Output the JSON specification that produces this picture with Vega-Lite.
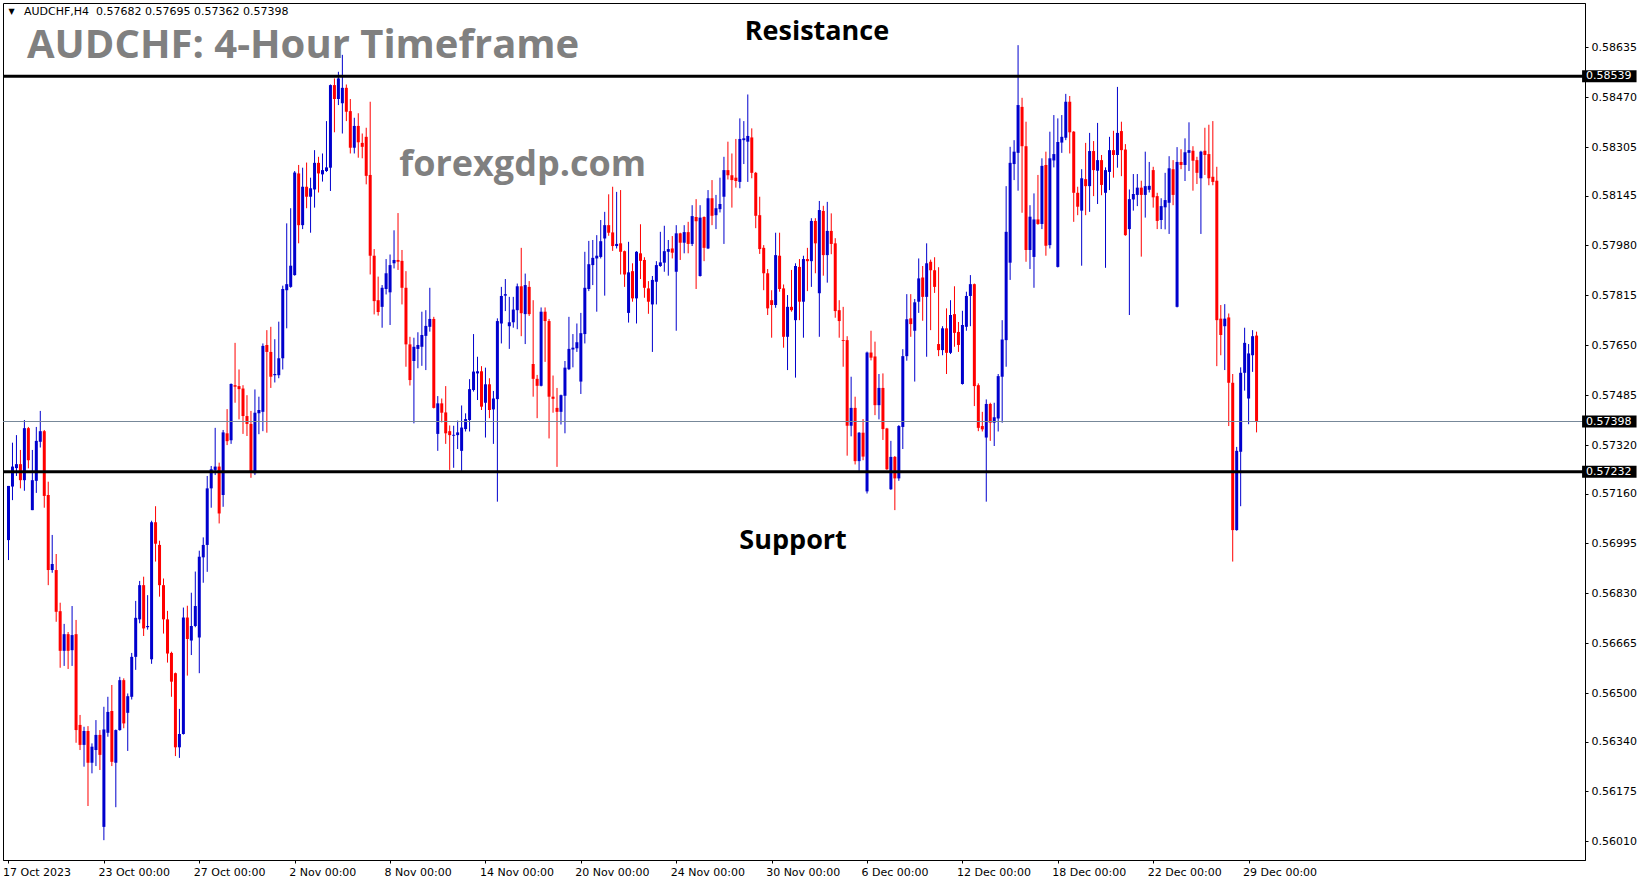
{
"$schema":"https://vega.github.io/schema/vega-lite/v6.json",
"width":1582,"height":857,
"autosize":{"type":"none"},
"padding":{"left":3,"top":3,"right":64,"bottom":24},
"background":"white",
"config":{"view":{"stroke":"black","strokeWidth":1},"font":"DejaVu Sans","axis":{"labelFont":"DejaVu Sans","labelColor":"#000","tickColor":"#000","domainColor":"#000","grid":false}},
"resolve":{"axis":{"x":"independent","y":"independent"}},
"datasets":{
"candles":[
{"i":0,"o":0.57006,"h":0.57185,"l":0.56940,"c":0.57185},
{"i":1,"o":0.57183,"h":0.57328,"l":0.57138,"c":0.57249},
{"i":2,"o":0.57244,"h":0.57353,"l":0.57218,"c":0.57257},
{"i":3,"o":0.57257,"h":0.57304,"l":0.57177,"c":0.57204},
{"i":4,"o":0.57204,"h":0.57403,"l":0.57169,"c":0.57376},
{"i":5,"o":0.57376,"h":0.57380,"l":0.57243,"c":0.57270},
{"i":6,"o":0.57105,"h":0.57304,"l":0.57105,"c":0.57204},
{"i":7,"o":0.57202,"h":0.57380,"l":0.57162,"c":0.57334},
{"i":8,"o":0.57331,"h":0.57433,"l":0.57312,"c":0.57366},
{"i":9,"o":0.57366,"h":0.57370,"l":0.57113,"c":0.57152},
{"i":10,"o":0.57155,"h":0.57199,"l":0.56857,"c":0.56907},
{"i":11,"o":0.56907,"h":0.57023,"l":0.56898,"c":0.56927},
{"i":12,"o":0.56907,"h":0.56960,"l":0.56736,"c":0.56769},
{"i":13,"o":0.56771,"h":0.56799,"l":0.56584,"c":0.56640},
{"i":14,"o":0.56640,"h":0.56729,"l":0.56590,"c":0.56695},
{"i":15,"o":0.56695,"h":0.56702,"l":0.56580,"c":0.56640},
{"i":16,"o":0.56642,"h":0.56788,"l":0.56590,"c":0.56692},
{"i":17,"o":0.56695,"h":0.56742,"l":0.56336,"c":0.56378},
{"i":18,"o":0.56395,"h":0.56428,"l":0.56312,"c":0.56329},
{"i":19,"o":0.56329,"h":0.56389,"l":0.56257,"c":0.56375},
{"i":20,"o":0.56375,"h":0.56391,"l":0.56127,"c":0.56270},
{"i":21,"o":0.56270,"h":0.56334,"l":0.56235,"c":0.56323},
{"i":22,"o":0.56312,"h":0.56411,"l":0.56259,"c":0.56362},
{"i":23,"o":0.56362,"h":0.56378,"l":0.56246,"c":0.56296},
{"i":24,"o":0.56058,"h":0.56455,"l":0.56014,"c":0.56380},
{"i":25,"o":0.56369,"h":0.56488,"l":0.56356,"c":0.56438},
{"i":26,"o":0.56441,"h":0.56527,"l":0.56259,"c":0.56273},
{"i":27,"o":0.56270,"h":0.56380,"l":0.56123,"c":0.56378},
{"i":28,"o":0.56378,"h":0.56554,"l":0.56376,"c":0.56543},
{"i":29,"o":0.56543,"h":0.56549,"l":0.56384,"c":0.56400},
{"i":30,"o":0.56435,"h":0.56499,"l":0.56309,"c":0.56490},
{"i":31,"o":0.56488,"h":0.56633,"l":0.56479,"c":0.56620},
{"i":32,"o":0.56620,"h":0.56805,"l":0.56577,"c":0.56749},
{"i":33,"o":0.56744,"h":0.56871,"l":0.56731,"c":0.56857},
{"i":34,"o":0.56857,"h":0.56885,"l":0.56689,"c":0.56714},
{"i":35,"o":0.56718,"h":0.56824,"l":0.56710,"c":0.56722},
{"i":36,"o":0.56612,"h":0.57070,"l":0.56597,"c":0.57065},
{"i":37,"o":0.57065,"h":0.57118,"l":0.56935,"c":0.56994},
{"i":38,"o":0.56990,"h":0.57004,"l":0.56819,"c":0.56857},
{"i":39,"o":0.56857,"h":0.56879,"l":0.56697,"c":0.56744},
{"i":40,"o":0.56744,"h":0.56772,"l":0.56601,"c":0.56631},
{"i":41,"o":0.56633,"h":0.56637,"l":0.56488,"c":0.56538},
{"i":42,"o":0.56566,"h":0.56568,"l":0.56292,"c":0.56321},
{"i":43,"o":0.56321,"h":0.56448,"l":0.56286,"c":0.56365},
{"i":44,"o":0.56365,"h":0.56783,"l":0.56363,"c":0.56750},
{"i":45,"o":0.56750,"h":0.56789,"l":0.56558,"c":0.56679},
{"i":46,"o":0.56674,"h":0.56832,"l":0.56626,"c":0.56722},
{"i":47,"o":0.56722,"h":0.56902,"l":0.56718,"c":0.56788},
{"i":48,"o":0.56684,"h":0.56971,"l":0.56566,"c":0.56951},
{"i":49,"o":0.56949,"h":0.57015,"l":0.56865,"c":0.56990},
{"i":50,"o":0.56990,"h":0.57218,"l":0.56901,"c":0.57177},
{"i":51,"o":0.57177,"h":0.57251,"l":0.57113,"c":0.57240},
{"i":52,"o":0.57238,"h":0.57377,"l":0.57221,"c":0.57249},
{"i":53,"o":0.57249,"h":0.57262,"l":0.57061,"c":0.57094},
{"i":54,"o":0.57155,"h":0.57370,"l":0.57116,"c":0.57362},
{"i":55,"o":0.57359,"h":0.57439,"l":0.57320,"c":0.57333},
{"i":56,"o":0.57336,"h":0.57524,"l":0.57324,"c":0.57522},
{"i":57,"o":0.57518,"h":0.57658,"l":0.57460,"c":0.57513},
{"i":58,"o":0.57515,"h":0.57570,"l":0.57405,"c":0.57505},
{"i":59,"o":0.57507,"h":0.57518,"l":0.57357,"c":0.57416},
{"i":60,"o":0.57416,"h":0.57485,"l":0.57350,"c":0.57390},
{"i":61,"o":0.57390,"h":0.57433,"l":0.57212,"c":0.57232},
{"i":62,"o":0.57227,"h":0.57504,"l":0.57221,"c":0.57427},
{"i":63,"o":0.57425,"h":0.57480,"l":0.57356,"c":0.57436},
{"i":64,"o":0.57430,"h":0.57656,"l":0.57366,"c":0.57648},
{"i":65,"o":0.57651,"h":0.57700,"l":0.57361,"c":0.57628},
{"i":66,"o":0.57628,"h":0.57711,"l":0.57509,"c":0.57546},
{"i":67,"o":0.57551,"h":0.57670,"l":0.57527,"c":0.57555},
{"i":68,"o":0.57551,"h":0.57728,"l":0.57541,"c":0.57607},
{"i":69,"o":0.57607,"h":0.57847,"l":0.57570,"c":0.57836},
{"i":70,"o":0.57832,"h":0.58053,"l":0.57706,"c":0.57852},
{"i":71,"o":0.57843,"h":0.58103,"l":0.57840,"c":0.57913},
{"i":72,"o":0.57882,"h":0.58226,"l":0.57880,"c":0.58221},
{"i":73,"o":0.58218,"h":0.58246,"l":0.57987,"c":0.58047},
{"i":74,"o":0.58047,"h":0.58237,"l":0.58034,"c":0.58174},
{"i":75,"o":0.58174,"h":0.58254,"l":0.58103,"c":0.58141},
{"i":76,"o":0.58141,"h":0.58204,"l":0.58022,"c":0.58169},
{"i":77,"o":0.58165,"h":0.58295,"l":0.58105,"c":0.58253},
{"i":78,"o":0.58253,"h":0.58273,"l":0.58155,"c":0.58218},
{"i":79,"o":0.58215,"h":0.58284,"l":0.58191,"c":0.58229},
{"i":80,"o":0.58226,"h":0.58391,"l":0.58223,"c":0.58238},
{"i":81,"o":0.58237,"h":0.58512,"l":0.58160,"c":0.58510},
{"i":82,"o":0.58510,"h":0.58532,"l":0.58354,"c":0.58464},
{"i":83,"o":0.58464,"h":0.58554,"l":0.58444,"c":0.58532},
{"i":84,"o":0.58450,"h":0.58610,"l":0.58350,"c":0.58501},
{"i":85,"o":0.58501,"h":0.58512,"l":0.58391,"c":0.58422},
{"i":86,"o":0.58424,"h":0.58464,"l":0.58284,"c":0.58303},
{"i":87,"o":0.58303,"h":0.58402,"l":0.58284,"c":0.58375},
{"i":88,"o":0.58375,"h":0.58417,"l":0.58270,"c":0.58321},
{"i":89,"o":0.58319,"h":0.58350,"l":0.58268,"c":0.58306},
{"i":90,"o":0.58339,"h":0.58369,"l":0.58182,"c":0.58210},
{"i":91,"o":0.58213,"h":0.58455,"l":0.57884,"c":0.57946},
{"i":92,"o":0.57946,"h":0.57968,"l":0.57752,"c":0.57796},
{"i":93,"o":0.57799,"h":0.57877,"l":0.57748,"c":0.57760},
{"i":94,"o":0.57777,"h":0.57849,"l":0.57708,"c":0.57840},
{"i":95,"o":0.57836,"h":0.57935,"l":0.57818,"c":0.57888},
{"i":96,"o":0.57825,"h":0.57950,"l":0.57717,"c":0.57915},
{"i":97,"o":0.57921,"h":0.58030,"l":0.57904,"c":0.57932},
{"i":98,"o":0.57932,"h":0.58087,"l":0.57899,"c":0.57926},
{"i":99,"o":0.57929,"h":0.57965,"l":0.57785,"c":0.57840},
{"i":100,"o":0.57840,"h":0.57895,"l":0.57579,"c":0.57653},
{"i":101,"o":0.57653,"h":0.57678,"l":0.57517,"c":0.57535},
{"i":102,"o":0.57598,"h":0.57675,"l":0.57392,"c":0.57645},
{"i":103,"o":0.57638,"h":0.57693,"l":0.57574,"c":0.57651},
{"i":104,"o":0.57645,"h":0.57761,"l":0.57582,"c":0.57684},
{"i":105,"o":0.57681,"h":0.57766,"l":0.57568,"c":0.57714},
{"i":106,"o":0.57711,"h":0.57840,"l":0.57695,"c":0.57737},
{"i":107,"o":0.57737,"h":0.57744,"l":0.57441,"c":0.57443},
{"i":108,"o":0.57357,"h":0.57482,"l":0.57301,"c":0.57458},
{"i":109,"o":0.57458,"h":0.57474,"l":0.57395,"c":0.57427},
{"i":110,"o":0.57428,"h":0.57515,"l":0.57324,"c":0.57359},
{"i":111,"o":0.57366,"h":0.57385,"l":0.57238,"c":0.57353},
{"i":112,"o":0.57351,"h":0.57384,"l":0.57245,"c":0.57354},
{"i":113,"o":0.57353,"h":0.57401,"l":0.57307,"c":0.57362},
{"i":114,"o":0.57301,"h":0.57451,"l":0.57235,"c":0.57378},
{"i":115,"o":0.57373,"h":0.57425,"l":0.57365,"c":0.57406},
{"i":116,"o":0.57403,"h":0.57538,"l":0.57365,"c":0.57505},
{"i":117,"o":0.57502,"h":0.57687,"l":0.57497,"c":0.57563},
{"i":118,"o":0.57557,"h":0.57612,"l":0.57469,"c":0.57564},
{"i":119,"o":0.57564,"h":0.57581,"l":0.57436,"c":0.57447},
{"i":120,"o":0.57460,"h":0.57576,"l":0.57345,"c":0.57521},
{"i":121,"o":0.57521,"h":0.57541,"l":0.57409,"c":0.57436},
{"i":122,"o":0.57438,"h":0.57499,"l":0.57324,"c":0.57474},
{"i":123,"o":0.57472,"h":0.57739,"l":0.57133,"c":0.57730},
{"i":124,"o":0.57722,"h":0.57843,"l":0.57656,"c":0.57813},
{"i":125,"o":0.57814,"h":0.57869,"l":0.57763,"c":0.57819},
{"i":126,"o":0.57713,"h":0.57810,"l":0.57638,"c":0.57726},
{"i":127,"o":0.57726,"h":0.57810,"l":0.57708,"c":0.57768},
{"i":128,"o":0.57766,"h":0.57854,"l":0.57703,"c":0.57845},
{"i":129,"o":0.57845,"h":0.57972,"l":0.57680,"c":0.57756},
{"i":130,"o":0.57753,"h":0.57887,"l":0.57654,"c":0.57849},
{"i":131,"o":0.57843,"h":0.57862,"l":0.57747,"c":0.57753},
{"i":132,"o":0.57588,"h":0.57799,"l":0.57480,"c":0.57539},
{"i":133,"o":0.57539,"h":0.57552,"l":0.57409,"c":0.57516},
{"i":134,"o":0.57516,"h":0.57775,"l":0.57514,"c":0.57761},
{"i":135,"o":0.57761,"h":0.57775,"l":0.57595,"c":0.57730},
{"i":136,"o":0.57730,"h":0.57737,"l":0.57342,"c":0.57480},
{"i":137,"o":0.57480,"h":0.57550,"l":0.57427,"c":0.57473},
{"i":138,"o":0.57443,"h":0.57509,"l":0.57248,"c":0.57430},
{"i":139,"o":0.57430,"h":0.57487,"l":0.57388,"c":0.57485},
{"i":140,"o":0.57483,"h":0.57598,"l":0.57359,"c":0.57576},
{"i":141,"o":0.57571,"h":0.57744,"l":0.57568,"c":0.57638},
{"i":142,"o":0.57636,"h":0.57687,"l":0.57577,"c":0.57642},
{"i":143,"o":0.57640,"h":0.57722,"l":0.57628,"c":0.57660},
{"i":144,"o":0.57530,"h":0.57757,"l":0.57489,"c":0.57690},
{"i":145,"o":0.57687,"h":0.57959,"l":0.57656,"c":0.57840},
{"i":146,"o":0.57836,"h":0.57995,"l":0.57829,"c":0.57918},
{"i":147,"o":0.57915,"h":0.57998,"l":0.57849,"c":0.57939},
{"i":148,"o":0.57937,"h":0.58014,"l":0.57761,"c":0.57946},
{"i":149,"o":0.57942,"h":0.58064,"l":0.57937,"c":0.57994},
{"i":150,"o":0.58003,"h":0.58091,"l":0.57814,"c":0.58047},
{"i":151,"o":0.58047,"h":0.58149,"l":0.58012,"c":0.58022},
{"i":152,"o":0.58023,"h":0.58174,"l":0.57962,"c":0.57978},
{"i":153,"o":0.57978,"h":0.58157,"l":0.57970,"c":0.57985},
{"i":154,"o":0.57987,"h":0.58163,"l":0.57884,"c":0.57959},
{"i":155,"o":0.57961,"h":0.57963,"l":0.57843,"c":0.57884},
{"i":156,"o":0.57757,"h":0.57992,"l":0.57725,"c":0.57891},
{"i":157,"o":0.57895,"h":0.57921,"l":0.57794,"c":0.57805},
{"i":158,"o":0.57805,"h":0.57961,"l":0.57722,"c":0.57959},
{"i":159,"o":0.57954,"h":0.58050,"l":0.57869,"c":0.57929},
{"i":160,"o":0.57932,"h":0.57941,"l":0.57807,"c":0.57840},
{"i":161,"o":0.57838,"h":0.57862,"l":0.57754,"c":0.57794},
{"i":162,"o":0.57785,"h":0.57879,"l":0.57628,"c":0.57866},
{"i":163,"o":0.57860,"h":0.57928,"l":0.57785,"c":0.57915},
{"i":164,"o":0.57912,"h":0.58025,"l":0.57909,"c":0.57924},
{"i":165,"o":0.57923,"h":0.58045,"l":0.57893,"c":0.57961},
{"i":166,"o":0.57959,"h":0.57998,"l":0.57880,"c":0.57968},
{"i":167,"o":0.57970,"h":0.58011,"l":0.57937,"c":0.57956},
{"i":168,"o":0.57893,"h":0.58047,"l":0.57698,"c":0.58020},
{"i":169,"o":0.58020,"h":0.58022,"l":0.57932,"c":0.57989},
{"i":170,"o":0.57989,"h":0.58047,"l":0.57954,"c":0.58024},
{"i":171,"o":0.58024,"h":0.58058,"l":0.57954,"c":0.57985},
{"i":172,"o":0.57985,"h":0.58113,"l":0.57978,"c":0.58077},
{"i":173,"o":0.58074,"h":0.58133,"l":0.57836,"c":0.58060},
{"i":174,"o":0.57879,"h":0.58113,"l":0.57877,"c":0.58072},
{"i":175,"o":0.58074,"h":0.58076,"l":0.57928,"c":0.57972},
{"i":176,"o":0.57970,"h":0.58163,"l":0.57968,"c":0.58136},
{"i":177,"o":0.58136,"h":0.58196,"l":0.58047,"c":0.58078},
{"i":178,"o":0.58080,"h":0.58147,"l":0.58034,"c":0.58103},
{"i":179,"o":0.58100,"h":0.58204,"l":0.58089,"c":0.58117},
{"i":180,"o":0.58141,"h":0.58273,"l":0.57985,"c":0.58229},
{"i":181,"o":0.58229,"h":0.58323,"l":0.58198,"c":0.58212},
{"i":182,"o":0.58212,"h":0.58284,"l":0.58105,"c":0.58196},
{"i":183,"o":0.58204,"h":0.58332,"l":0.58171,"c":0.58193},
{"i":184,"o":0.58190,"h":0.58400,"l":0.58169,"c":0.58332},
{"i":185,"o":0.58328,"h":0.58391,"l":0.58249,"c":0.58334},
{"i":186,"o":0.58323,"h":0.58479,"l":0.58190,"c":0.58342},
{"i":187,"o":0.58337,"h":0.58367,"l":0.58202,"c":0.58220},
{"i":188,"o":0.58220,"h":0.58223,"l":0.58037,"c":0.58078},
{"i":189,"o":0.58080,"h":0.58141,"l":0.57952,"c":0.57968},
{"i":190,"o":0.57972,"h":0.57981,"l":0.57832,"c":0.57888},
{"i":191,"o":0.57888,"h":0.57902,"l":0.57750,"c":0.57772},
{"i":192,"o":0.57799,"h":0.57832,"l":0.57675,"c":0.57783},
{"i":193,"o":0.57783,"h":0.58022,"l":0.57774,"c":0.57948},
{"i":194,"o":0.57946,"h":0.58022,"l":0.57827,"c":0.57836},
{"i":195,"o":0.57838,"h":0.57851,"l":0.57642,"c":0.57678},
{"i":196,"o":0.57678,"h":0.57816,"l":0.57568,"c":0.57777},
{"i":197,"o":0.57777,"h":0.57899,"l":0.57761,"c":0.57766},
{"i":198,"o":0.57733,"h":0.57921,"l":0.57543,"c":0.57912},
{"i":199,"o":0.57909,"h":0.57935,"l":0.57733,"c":0.57794},
{"i":200,"o":0.57794,"h":0.57946,"l":0.57675,"c":0.57935},
{"i":201,"o":0.57935,"h":0.57972,"l":0.57829,"c":0.57928},
{"i":202,"o":0.57928,"h":0.58070,"l":0.57843,"c":0.58061},
{"i":203,"o":0.58061,"h":0.58070,"l":0.57888,"c":0.57987},
{"i":204,"o":0.57822,"h":0.58127,"l":0.57678,"c":0.58097},
{"i":205,"o":0.58094,"h":0.58111,"l":0.57880,"c":0.57948},
{"i":206,"o":0.57948,"h":0.58124,"l":0.57857,"c":0.58028},
{"i":207,"o":0.58028,"h":0.58086,"l":0.57951,"c":0.57985},
{"i":208,"o":0.57987,"h":0.58004,"l":0.57741,"c":0.57763},
{"i":209,"o":0.57766,"h":0.57799,"l":0.57675,"c":0.57730},
{"i":210,"o":0.57667,"h":0.57777,"l":0.57579,"c":0.57664},
{"i":211,"o":0.57667,"h":0.57680,"l":0.57285,"c":0.57384},
{"i":212,"o":0.57384,"h":0.57546,"l":0.57349,"c":0.57443},
{"i":213,"o":0.57443,"h":0.57480,"l":0.57256,"c":0.57267},
{"i":214,"o":0.57267,"h":0.57363,"l":0.57235,"c":0.57361},
{"i":215,"o":0.57361,"h":0.57406,"l":0.57270,"c":0.57282},
{"i":216,"o":0.57167,"h":0.57629,"l":0.57160,"c":0.57626},
{"i":217,"o":0.57626,"h":0.57698,"l":0.57600,"c":0.57609},
{"i":218,"o":0.57613,"h":0.57662,"l":0.57419,"c":0.57452},
{"i":219,"o":0.57452,"h":0.57555,"l":0.57405,"c":0.57509},
{"i":220,"o":0.57509,"h":0.57557,"l":0.57337,"c":0.57373},
{"i":221,"o":0.57375,"h":0.57377,"l":0.57238,"c":0.57240},
{"i":222,"o":0.57174,"h":0.57334,"l":0.57172,"c":0.57281},
{"i":223,"o":0.57281,"h":0.57284,"l":0.57105,"c":0.57210},
{"i":224,"o":0.57210,"h":0.57386,"l":0.57202,"c":0.57383},
{"i":225,"o":0.57380,"h":0.57637,"l":0.57307,"c":0.57614},
{"i":226,"o":0.57614,"h":0.57819,"l":0.57599,"c":0.57736},
{"i":227,"o":0.57739,"h":0.57819,"l":0.57678,"c":0.57720},
{"i":228,"o":0.57698,"h":0.57803,"l":0.57530,"c":0.57792},
{"i":229,"o":0.57794,"h":0.57937,"l":0.57757,"c":0.57871},
{"i":230,"o":0.57874,"h":0.57912,"l":0.57731,"c":0.57810},
{"i":231,"o":0.57810,"h":0.57987,"l":0.57612,"c":0.57921},
{"i":232,"o":0.57926,"h":0.57933,"l":0.57700,"c":0.57898},
{"i":233,"o":0.57898,"h":0.57941,"l":0.57823,"c":0.57843},
{"i":234,"o":0.57654,"h":0.57908,"l":0.57614,"c":0.57634},
{"i":235,"o":0.57634,"h":0.57713,"l":0.57617,"c":0.57706},
{"i":236,"o":0.57706,"h":0.57772,"l":0.57555,"c":0.57625},
{"i":237,"o":0.57625,"h":0.57799,"l":0.57621,"c":0.57750},
{"i":238,"o":0.57753,"h":0.57845,"l":0.57645,"c":0.57691},
{"i":239,"o":0.57694,"h":0.57727,"l":0.57628,"c":0.57651},
{"i":240,"o":0.57522,"h":0.57764,"l":0.57520,"c":0.57717},
{"i":241,"o":0.57711,"h":0.57827,"l":0.57698,"c":0.57813},
{"i":242,"o":0.57813,"h":0.57882,"l":0.57713,"c":0.57852},
{"i":243,"o":0.57852,"h":0.57854,"l":0.57449,"c":0.57515},
{"i":244,"o":0.57518,"h":0.57524,"l":0.57366,"c":0.57377},
{"i":245,"o":0.57383,"h":0.57430,"l":0.57365,"c":0.57372},
{"i":246,"o":0.57345,"h":0.57471,"l":0.57133,"c":0.57456},
{"i":247,"o":0.57456,"h":0.57460,"l":0.57334,"c":0.57394},
{"i":248,"o":0.57394,"h":0.57460,"l":0.57317,"c":0.57412},
{"i":249,"o":0.57408,"h":0.57555,"l":0.57365,"c":0.57548},
{"i":250,"o":0.57546,"h":0.57733,"l":0.57394,"c":0.57669},
{"i":251,"o":0.57667,"h":0.58176,"l":0.57579,"c":0.58025},
{"i":252,"o":0.57923,"h":0.58306,"l":0.57866,"c":0.58253},
{"i":253,"o":0.58249,"h":0.58328,"l":0.58196,"c":0.58290},
{"i":254,"o":0.58286,"h":0.58642,"l":0.58161,"c":0.58444},
{"i":255,"o":0.58438,"h":0.58468,"l":0.58088,"c":0.58308},
{"i":256,"o":0.58308,"h":0.58389,"l":0.57926,"c":0.57965},
{"i":257,"o":0.57965,"h":0.58113,"l":0.57902,"c":0.58075},
{"i":258,"o":0.57942,"h":0.58152,"l":0.57840,"c":0.58066},
{"i":259,"o":0.58066,"h":0.58213,"l":0.58048,"c":0.58051},
{"i":260,"o":0.58051,"h":0.58268,"l":0.58034,"c":0.58243},
{"i":261,"o":0.58246,"h":0.58290,"l":0.57946,"c":0.57979},
{"i":262,"o":0.57981,"h":0.58356,"l":0.57970,"c":0.58268},
{"i":263,"o":0.58261,"h":0.58411,"l":0.58238,"c":0.58282},
{"i":264,"o":0.57909,"h":0.58400,"l":0.57907,"c":0.58322},
{"i":265,"o":0.58320,"h":0.58411,"l":0.58286,"c":0.58339},
{"i":266,"o":0.58336,"h":0.58481,"l":0.58328,"c":0.58455},
{"i":267,"o":0.58455,"h":0.58474,"l":0.58284,"c":0.58354},
{"i":268,"o":0.58356,"h":0.58358,"l":0.58058,"c":0.58154},
{"i":269,"o":0.58154,"h":0.58174,"l":0.58080,"c":0.58108},
{"i":270,"o":0.58095,"h":0.58232,"l":0.57913,"c":0.58202},
{"i":271,"o":0.58199,"h":0.58319,"l":0.58080,"c":0.58176},
{"i":272,"o":0.58176,"h":0.58352,"l":0.58091,"c":0.58292},
{"i":273,"o":0.58292,"h":0.58325,"l":0.58143,"c":0.58229},
{"i":274,"o":0.58227,"h":0.58385,"l":0.58117,"c":0.58262},
{"i":275,"o":0.58262,"h":0.58279,"l":0.58146,"c":0.58180},
{"i":276,"o":0.58154,"h":0.58238,"l":0.57906,"c":0.58229},
{"i":277,"o":0.58223,"h":0.58339,"l":0.58163,"c":0.58295},
{"i":278,"o":0.58295,"h":0.58359,"l":0.58204,"c":0.58279},
{"i":279,"o":0.58279,"h":0.58504,"l":0.58237,"c":0.58352},
{"i":280,"o":0.58358,"h":0.58389,"l":0.58209,"c":0.58295},
{"i":281,"o":0.58297,"h":0.58315,"l":0.58012,"c":0.58014},
{"i":282,"o":0.58034,"h":0.58165,"l":0.57750,"c":0.58133},
{"i":283,"o":0.58132,"h":0.58216,"l":0.58095,"c":0.58150},
{"i":284,"o":0.58147,"h":0.58216,"l":0.58110,"c":0.58171},
{"i":285,"o":0.58171,"h":0.58194,"l":0.57943,"c":0.58147},
{"i":286,"o":0.58147,"h":0.58290,"l":0.58072,"c":0.58176},
{"i":287,"o":0.58164,"h":0.58256,"l":0.58155,"c":0.58177},
{"i":288,"o":0.58229,"h":0.58240,"l":0.58105,"c":0.58139},
{"i":289,"o":0.58143,"h":0.58154,"l":0.58034,"c":0.58061},
{"i":290,"o":0.58064,"h":0.58136,"l":0.58034,"c":0.58110},
{"i":291,"o":0.58106,"h":0.58220,"l":0.58033,"c":0.58130},
{"i":292,"o":0.58121,"h":0.58275,"l":0.58018,"c":0.58235},
{"i":293,"o":0.58232,"h":0.58262,"l":0.58113,"c":0.58147},
{"i":294,"o":0.57777,"h":0.58305,"l":0.57775,"c":0.58256},
{"i":295,"o":0.58256,"h":0.58298,"l":0.58232,"c":0.58246},
{"i":296,"o":0.58246,"h":0.58334,"l":0.58193,"c":0.58288},
{"i":297,"o":0.58286,"h":0.58387,"l":0.58226,"c":0.58295},
{"i":298,"o":0.58293,"h":0.58308,"l":0.58161,"c":0.58260},
{"i":299,"o":0.58262,"h":0.58273,"l":0.58183,"c":0.58220},
{"i":300,"o":0.58202,"h":0.58293,"l":0.58018,"c":0.58290},
{"i":301,"o":0.58293,"h":0.58369,"l":0.58213,"c":0.58279},
{"i":302,"o":0.58282,"h":0.58379,"l":0.58179,"c":0.58202},
{"i":303,"o":0.58207,"h":0.58391,"l":0.58179,"c":0.58190},
{"i":304,"o":0.58194,"h":0.58240,"l":0.57581,"c":0.57733},
{"i":305,"o":0.57738,"h":0.57783,"l":0.57617,"c":0.57684},
{"i":306,"o":0.57713,"h":0.57786,"l":0.57568,"c":0.57738},
{"i":307,"o":0.57742,"h":0.57755,"l":0.57383,"c":0.57526},
{"i":308,"o":0.57526,"h":0.57555,"l":0.56935,"c":0.57039},
{"i":309,"o":0.57039,"h":0.57314,"l":0.57037,"c":0.57301},
{"i":310,"o":0.57298,"h":0.57577,"l":0.57118,"c":0.57559},
{"i":311,"o":0.57559,"h":0.57708,"l":0.57500,"c":0.57658},
{"i":312,"o":0.57474,"h":0.57654,"l":0.57389,"c":0.57623},
{"i":313,"o":0.57617,"h":0.57700,"l":0.57562,"c":0.57680},
{"i":314,"o":0.57682,"h":0.57695,"l":0.57362,"c":0.57398}
],
"levels":[{"kind":"sr","p":0.58539},{"kind":"sr","p":0.57232},{"kind":"cur","p":0.57398}]
},
"layer":[
{"data":{"name":"candles"},
 "mark":{"type":"rule","strokeWidth":1},
 "encoding":{
  "x":{"field":"i","type":"quantitative","scale":{"domain":[-0.125,395.375],"nice":false,"zero":false},
   "axis":{"values":[0,24,48,72,96,120,144,168,192,216,240,264,288,312],
    "labelExpr":"['17 Oct 2023','23 Oct 00:00','27 Oct 00:00','2 Nov 00:00','8 Nov 00:00','14 Nov 00:00','20 Nov 00:00','24 Nov 00:00','30 Nov 00:00','6 Dec 00:00','12 Dec 00:00','18 Dec 00:00','22 Dec 00:00','29 Dec 00:00'][round(datum.value/24)]",
    "labelAlign":"left","labelFontSize":11,"labelOffset":-6,"tickSize":3,"labelPadding":3,"labelBound":false,"labelFlush":false,"labelOverlap":false,"title":null}},
  "y":{"field":"l","type":"quantitative","scale":{"domain":[0.559485,0.587814],"nice":false,"zero":false},
   "axis":{"orient":"right","values":[0.58635,0.58470,0.58305,0.58145,0.57980,0.57815,0.57650,0.57485,0.57320,0.57160,0.56995,0.56830,0.56665,0.56500,0.56340,0.56175,0.56010],
    "format":".5f","labelFontSize":11,"tickSize":3,"labelPadding":3,"labelBound":false,"labelFlush":false,"labelOverlap":false,"title":null}},
  "y2":{"field":"h"},
  "color":{"condition":{"test":"datum.c >= datum.o","value":"#0000cd"},"value":"#ff0000"}
 }},
{"data":{"name":"candles"},
 "mark":{"type":"bar","width":3},
 "encoding":{
  "x":{"field":"i","type":"quantitative","scale":{"domain":[-0.125,395.375],"nice":false,"zero":false},"axis":null},
  "y":{"field":"o","type":"quantitative","scale":{"domain":[0.559485,0.587814],"nice":false,"zero":false},"axis":null},
  "y2":{"field":"c"},
  "color":{"condition":{"test":"datum.c >= datum.o","value":"#0000cd"},"value":"#ff0000"}
 }},
{"data":{"name":"levels"},
 "transform":[{"filter":"datum.kind == 'cur'"}],
 "mark":{"type":"rule","strokeWidth":1,"color":"#778899"},
 "encoding":{"y":{"field":"p","type":"quantitative","scale":{"domain":[0.559485,0.587814],"nice":false,"zero":false},"axis":null}}},
{"data":{"name":"levels"},
 "transform":[{"filter":"datum.kind == 'sr'"}],
 "mark":{"type":"rule","strokeWidth":3,"color":"#000000"},
 "encoding":{"y":{"field":"p","type":"quantitative","scale":{"domain":[0.559485,0.587814],"nice":false,"zero":false},"axis":null}}},
{"data":{"name":"levels"},
 "mark":{"type":"rule","strokeWidth":12,"color":"#000000","strokeCap":"butt"},
 "encoding":{
  "x":{"datum":395.9,"type":"quantitative","scale":{"domain":[-0.125,395.375],"nice":false,"zero":false},"axis":null},
  "x2":{"datum":409.6},
  "y":{"field":"p","type":"quantitative","scale":{"domain":[0.559485,0.587814],"nice":false,"zero":false},"axis":null}}},
{"data":{"name":"levels"},
 "mark":{"type":"text","color":"#ffffff","align":"left","baseline":"middle","fontSize":11,"font":"DejaVu Sans"},
 "encoding":{
  "x":{"datum":396.875,"type":"quantitative","scale":{"domain":[-0.125,395.375],"nice":false,"zero":false},"axis":null},
  "y":{"field":"p","type":"quantitative","scale":{"domain":[0.559485,0.587814],"nice":false,"zero":false},"axis":null},
  "text":{"field":"p","format":".5f"}}},
{"data":{"values":[{"t":"▼"}]},
 "mark":{"type":"text","color":"#000000","align":"left","baseline":"middle","fontSize":8,"font":"DejaVu Sans"},
 "encoding":{
  "x":{"datum":0.0,"type":"quantitative","scale":{"domain":[-0.125,395.375],"nice":false,"zero":false},"axis":null},
  "y":{"datum":0.587517,"type":"quantitative","scale":{"domain":[0.559485,0.587814],"nice":false,"zero":false},"axis":null},
  "text":{"field":"t"}}},
{"data":{"values":[{"t":"AUDCHF,H4\u00a0\u00a00.57682 0.57695 0.57362 0.57398"}]},
 "mark":{"type":"text","color":"#000000","align":"left","baseline":"middle","fontSize":11,"font":"DejaVu Sans"},
 "encoding":{
  "x":{"datum":3.9,"type":"quantitative","scale":{"domain":[-0.125,395.375],"nice":false,"zero":false},"axis":null},
  "y":{"datum":0.587517,"type":"quantitative","scale":{"domain":[0.559485,0.587814],"nice":false,"zero":false},"axis":null},
  "text":{"field":"t"}}},
{"data":{"values":[{"t":"AUDCHF: 4-Hour Timeframe"}]},
 "mark":{"type":"text","color":"#808080","align":"left","baseline":"middle","fontSize":40,"fontWeight":"bold","font":"Open Sans"},
 "encoding":{
  "x":{"datum":4.65,"type":"quantitative","scale":{"domain":[-0.125,395.375],"nice":false,"zero":false},"axis":null},
  "y":{"datum":0.586393,"type":"quantitative","scale":{"domain":[0.559485,0.587814],"nice":false,"zero":false},"axis":null},
  "text":{"field":"t"}}},
{"data":{"values":[{"t":"forexgdp.com"}]},
 "mark":{"type":"text","color":"#808080","align":"left","baseline":"middle","fontSize":36,"fontWeight":"bold","font":"Open Sans"},
 "encoding":{
  "x":{"datum":98.3,"type":"quantitative","scale":{"domain":[-0.125,395.375],"nice":false,"zero":false},"axis":null},
  "y":{"datum":0.582459,"type":"quantitative","scale":{"domain":[0.559485,0.587814],"nice":false,"zero":false},"axis":null},
  "text":{"field":"t"}}},
{"data":{"values":[{"t":"Resistance"}]},
 "mark":{"type":"text","color":"#000000","align":"center","baseline":"middle","fontSize":27,"fontWeight":"bold","font":"Open Sans"},
 "encoding":{
  "x":{"datum":203.4,"type":"quantitative","scale":{"domain":[-0.125,395.375],"nice":false,"zero":false},"axis":null},
  "y":{"datum":0.586871,"type":"quantitative","scale":{"domain":[0.559485,0.587814],"nice":false,"zero":false},"axis":null},
  "text":{"field":"t"}}},
{"data":{"values":[{"t":"Support"}]},
 "mark":{"type":"text","color":"#000000","align":"center","baseline":"middle","fontSize":27,"fontWeight":"bold","font":"Open Sans"},
 "encoding":{
  "x":{"datum":197.4,"type":"quantitative","scale":{"domain":[-0.125,395.375],"nice":false,"zero":false},"axis":null},
  "y":{"datum":0.570030,"type":"quantitative","scale":{"domain":[0.559485,0.587814],"nice":false,"zero":false},"axis":null},
  "text":{"field":"t"}}}
]
}
